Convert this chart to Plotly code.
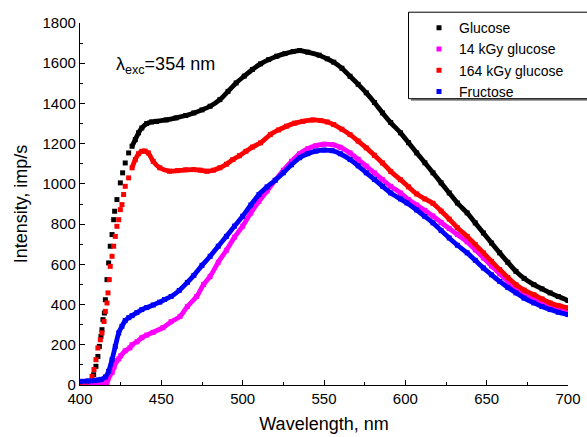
import plotly.graph_objects as go

# ---------------- data ----------------
glucose_x = [400, 405, 408.4, 409.8, 411, 411.9, 412.9, 413.5, 414.1, 415, 415.6, 416.6, 417.6, 418.6,
             419.7, 420.7, 421.3, 422.7, 424.8, 426.2, 427.8, 429.9, 432, 434, 436, 438, 441, 444, 447,
             453, 459, 465, 470, 475, 480, 486, 491, 496, 501, 506, 511, 516, 521, 526, 531, 535, 540,
             547, 552, 556, 561, 566, 571, 576, 581, 586, 591, 597, 602, 607, 612, 617, 622, 627, 632,
             638, 643, 648, 653, 658, 663, 668, 673, 679, 684, 689, 694, 700]
glucose_y = [10, 12, 51, 93, 142, 192, 242, 275, 325, 358, 424, 524, 607, 690,
             748, 822, 864, 922, 1005, 1055, 1104, 1154, 1187, 1220, 1254, 1278, 1300, 1308, 1311,
             1318, 1328, 1340, 1353, 1368, 1386, 1419, 1460, 1502, 1536, 1569, 1597, 1618, 1635, 1648, 1658, 1663, 1655,
             1640, 1622, 1605, 1575, 1535, 1495, 1453, 1405, 1353, 1305, 1254, 1205, 1154, 1105, 1055, 1005, 955, 905,
             856, 806, 756, 706, 657, 610, 565, 530, 499, 478, 458, 440, 420]

kgy14_x = [400, 405, 410, 414.3, 416.6, 418.4, 419.7, 421, 422.6, 423.8, 425, 427.8, 430.7, 432, 435, 438,
           441, 445, 451, 456, 461.5, 466, 471.7, 476, 480, 485, 490, 495, 500, 505, 510, 515, 520, 525,
           530, 535, 540, 545, 550, 555, 560, 566, 571, 576, 581, 586, 591, 597, 602, 607, 612, 617, 622,
           627, 632, 638, 643, 648, 653, 658, 663, 668, 673, 679, 684, 689, 694, 700]
kgy14_y = [8, 8, 8, 10, 12, 50, 62, 90, 120, 130, 145, 170, 185, 200, 215, 235,
           248, 262, 285, 315, 341, 390, 440, 500, 540, 610, 670, 735, 790, 855, 913, 965, 1018, 1068,
           1112, 1150, 1175, 1190, 1197, 1195, 1182, 1154, 1122, 1088, 1055, 1021, 988, 955, 922, 895, 868, 840, 808,
           778, 748, 712, 672, 632, 592, 553, 515, 481, 455, 430, 410, 390, 377, 365]

kgy164_x = [400, 404, 407.4, 408.6, 409.8, 411, 412.5, 413.5, 414.8, 415.6, 416.6, 417.2, 418, 418.6, 419.7,
            420.7, 421.7, 422.7, 423.8, 424.8, 425.8, 426.8, 427.8, 429.9, 432, 434, 436, 438, 440, 442, 445,
            449, 455, 460, 465, 470, 474, 478, 482, 486, 490, 494, 498, 502, 506, 511, 517, 522, 527, 532,
            537, 543, 548, 552, 556, 561, 566, 571, 576, 581, 586, 591, 597, 602, 607, 612, 617, 622, 627,
            632, 638, 643, 648, 653, 658, 663, 668, 673, 679, 684, 689, 694, 700]
kgy164_y = [10, 15, 43, 77, 126, 184, 225, 259, 316, 366, 408, 458, 524, 590, 640,
            690, 739, 789, 822, 872, 897, 947, 988, 1030, 1080, 1121, 1150, 1162, 1163, 1154, 1112,
            1080, 1063, 1066, 1070, 1071, 1068, 1063, 1068, 1080, 1098, 1121, 1140, 1162, 1183, 1204, 1245, 1268, 1287, 1302,
            1311, 1318, 1315, 1308, 1295, 1272, 1245, 1213, 1179, 1142, 1104, 1062, 1021, 985, 950, 925, 903, 865, 825,
            782, 739, 698, 657, 615, 574, 535, 499, 472, 449, 428, 408, 395, 383]

fructose_x = [400, 405, 409, 411.5, 413, 415.6, 417.6, 419.7, 421.7, 423.8, 425.8, 427.8, 430, 432, 435, 438,
              441, 445, 449, 452, 456, 461, 466, 470, 475, 480, 485, 490, 495, 500, 505, 510, 515, 520, 525,
              530, 535, 540, 545, 550, 555, 560, 566, 571, 576, 581, 586, 591, 597, 601, 607, 612, 617, 622,
              627, 632, 638, 643, 648, 653, 658, 663, 668, 673, 679, 684, 689, 694, 700]
fructose_y = [18, 20, 22, 25, 28, 40, 68, 126, 192, 259, 292, 320, 335, 345, 360, 375,
              385, 398, 412, 425, 440, 470, 510, 545, 595, 640, 690, 739, 790, 839, 895, 947, 985, 1018, 1055,
              1095, 1130, 1150, 1163, 1168, 1165, 1150, 1121, 1090, 1055, 1022, 988, 955, 925, 905, 870, 838, 806, 768,
              731, 695, 657, 620, 582, 548, 515, 485, 458, 432, 408, 390, 375, 362, 350]

series_names = ["Glucose", "14 kGy glucose", "164 kGy glucose", "Fructose"]
series_x = [glucose_x, kgy14_x, kgy164_x, fructose_x]
series_y = [glucose_y, kgy14_y, kgy164_y, fructose_y]
series_colors = ["#000000", "#ff00ff", "#ff0000", "#0000ff"]
line_start = [430, 400, 432, 400]  # where the dense markers merge into a continuous line

x_ticks = [400, 450, 500, 550, 600, 650, 700]
y_ticks = [0, 200, 400, 600, 800, 1000, 1200, 1400, 1600, 1800]

FONT = "Liberation Sans, Arial, sans-serif"

# plot-area geometry in pixels (used only for paper-coordinate placement of texts/boxes)
L, R, T, B = 80, 568, 23.3, 385.3
PW, PH = R - L, B - T


def px(xp):
    return (xp - L) / PW


def py(yp):
    return (B - yp) / PH


fig = go.Figure()
for name, xs, ys, col, start in zip(series_names, series_x, series_y, series_colors, line_start):
    lx = [x for x in xs if x >= start]
    ly = [y for x, y in zip(xs, ys) if x >= start]
    fig.add_trace(go.Scatter(x=lx, y=ly, mode="lines",
                             line=dict(color=col, width=4.8, shape="spline", smoothing=0.7),
                             showlegend=False, hoverinfo="skip"))
    fig.add_trace(go.Scatter(x=xs, y=ys, mode="markers", name=name,
                             marker=dict(symbol="square", size=5, color=col, line=dict(width=0))))

axis_common = dict(
    showline=True, linecolor="black", linewidth=1.3, mirror=False,
    ticks="inside", ticklen=5, tickwidth=1.3, tickcolor="black",
    showgrid=False, zeroline=False,
    tickfont=dict(family=FONT, size=15, color="black"),
)

fig.update_xaxes(range=[400, 700], tickvals=x_ticks, ticktext=[str(v) for v in x_ticks],
                 minor=dict(ticks="inside", ticklen=3, dtick=25, tick0=400, tickcolor="black", showgrid=False),
                 title=dict(text="Wavelength, nm", font=dict(family=FONT, size=18, color="black"), standoff=11),
                 **axis_common)
fig.update_yaxes(range=[0, 1800], tickvals=y_ticks, ticktext=[str(v) for v in y_ticks],
                 minor=dict(ticks="inside", ticklen=3, dtick=100, tick0=0, tickcolor="black", showgrid=False),
                 title=dict(text="Intensity, imp/s", font=dict(family=FONT, size=18, color="black"), standoff=10),
                 **axis_common)

fig.add_annotation(xref="paper", yref="paper", x=px(114), y=py(66),
                   xanchor="left", yanchor="middle", showarrow=False,
                   text="λ<sub>exc</sub>=354 nm", font=dict(family=FONT, size=18, color="black"))

# legend frame with its drop shadow (frame runs off the right edge as in the reference)
fig.add_shape(type="rect", xref="paper", yref="paper",
              x0=px(411), x1=px(620), y0=py(101), y1=py(15),
              fillcolor="#7f7f7f", line=dict(width=0), layer="above")
fig.add_shape(type="rect", xref="paper", yref="paper",
              x0=px(408.5), x1=px(620), y0=py(99), y1=py(12.5),
              fillcolor="white", line=dict(color="black", width=1), layer="above")

fig.update_layout(
    width=587, height=437,
    margin=dict(l=L, r=587 - R, t=T, b=437 - B, autoexpand=False),
    paper_bgcolor="white", plot_bgcolor="white",
    font=dict(family=FONT, color="black"),
    legend=dict(x=px(419), y=py(12.5), xanchor="left", yanchor="top",
                bgcolor="rgba(0,0,0,0)", borderwidth=0,
                font=dict(family=FONT, size=14, color="black"),
                itemsizing="trace", tracegroupgap=0),
    showlegend=True,
)

fig.write_html("out.html")
